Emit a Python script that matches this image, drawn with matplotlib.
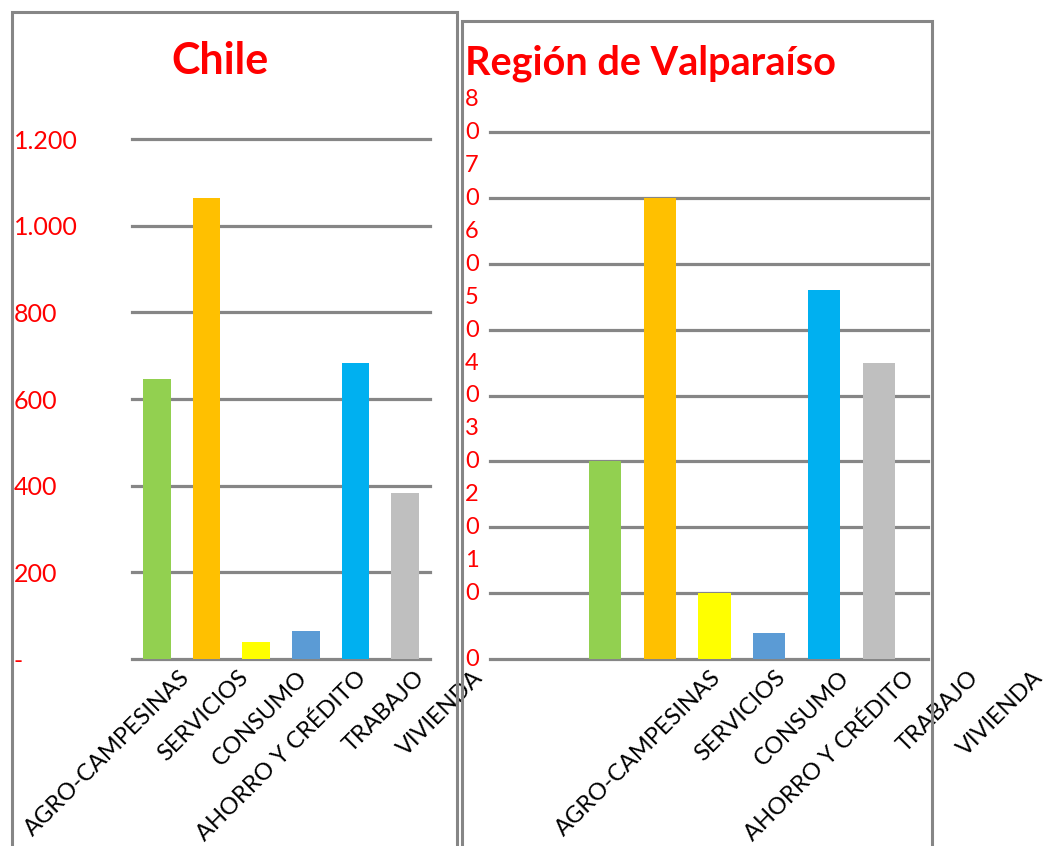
import matplotlib
matplotlib.use('Agg')
import matplotlib.pyplot as plt
import matplotlib.transforms as mtransforms
from matplotlib.patches import Rectangle
import numpy as np

plt.rcParams['font.family'] = ['Lato', 'DejaVu Sans']

# Datos
categorias = ['AGRO-CAMPESINAS', 'SERVICIOS', 'CONSUMO', 'AHORRO Y CRÉDITO', 'TRABAJO', 'VIVIENDA']
colores = ['#92D050', '#FFC000', '#FFFF00', '#5B9BD5', '#00B0F0', '#BFBFBF']

chile = [647, 1064, 39, 65, 682, 382]
valparaiso = [30, 70, 10, 4, 56, 45]

chile_ticks = [0, 200, 400, 600, 800, 1000, 1200]
chile_ticklabels = ['-', '200', '400', '600', '800', '1.000', '1.200']
valpo_ticks = [0, 10, 20, 30, 40, 50, 60, 70, 80]
valpo_ticklabels = ['0', '1\n0', '2\n0', '3\n0', '4\n0', '5\n0', '6\n0', '7\n0', '8\n0']

ROJO = '#FF0000'
GRIS = '#868686'

W, H = 1051, 846
fig = plt.figure(figsize=(W / 100, H / 100), dpi=100)


def caja(x0, y0, x1, y1):
    # pixeles (origen arriba-izquierda) -> coordenadas de figura
    return [x0 / W, 1 - y1 / H, (x1 - x0) / W, (y1 - y0) / H]


ax1 = fig.add_axes(caja(132, 139, 430, 659))
ax2 = fig.add_axes(caja(490, 132, 928, 659))

x = np.arange(len(categorias))
ax1.bar(x, chile, width=0.56, color=colores, zorder=3)
ax2.bar(x, valparaiso, width=0.59, color=colores, zorder=3)

ax1.set_xlim(-0.5, 5.5)
ax1.set_ylim(0, 1200)
ax2.set_xlim(-2.1, 5.9)
ax2.set_ylim(0, 80)

for ax in (ax1, ax2):
    for s in ax.spines.values():
        s.set_visible(False)
    ax.set_axisbelow(True)
    ax.yaxis.grid(True, color=GRIS, linewidth=2.3)
    ax.tick_params(length=0)
    ax.set_xticks([])

# Eje Y Chile
ax1.set_yticks(chile_ticks, chile_ticklabels)
ax1.tick_params(axis='y', pad=85, labelcolor=ROJO, labelsize=18)
for lbl in ax1.get_yticklabels():
    lbl.set_horizontalalignment('left')

# Eje Y Valparaíso (etiquetas partidas en dos líneas)
ax2.set_yticks(valpo_ticks, [''] * len(valpo_ticks))
trans = mtransforms.blended_transform_factory(fig.transFigure, ax2.transData)
for v, lab in zip(valpo_ticks, valpo_ticklabels):
    t = trans
    if '\n' in lab:
        t = mtransforms.offset_copy(trans, fig=fig, y=16, units='dots')
    ax2.text(465 / W, v, lab, transform=t, ha='left', va='center',
             color=ROJO, fontsize=17, linespacing=1.7)

for ax in (ax1, ax2):
    for gl in ax.get_ygridlines():
        gl.set_clip_on(False)

# Etiquetas de categorías (desplazadas como en el original)
pos_izq = 0.61 + 1.18 * x
pos_der = 2.07 + 1.174 * x
for ax, pos in ((ax1, pos_izq), (ax2, pos_der)):
    tr = mtransforms.offset_copy(ax.get_xaxis_transform(), fig=fig, x=-8, y=-8, units='dots')
    for p, cat in zip(pos, categorias):
        ax.text(p, 0, cat, transform=tr, rotation=45, rotation_mode='anchor',
                ha='right', va='top', fontsize=17, clip_on=False)

# Títulos
fig.text(171 / W, 1 - 74 / H, 'Chile', color=ROJO, fontsize=31,
         fontweight='bold', ha='left', va='baseline')
fig.text(465 / W, 1 - 75 / H, 'Región de Valparaíso', color=ROJO, fontsize=28.5,
         fontweight='bold', ha='left', va='baseline')

# Marcos de cada gráfico
fig.add_artist(Rectangle((12 / W, -0.1), (457 - 12) / W, 1 - 12 / H + 0.1,
                         transform=fig.transFigure, fill=False, ec=GRIS, lw=2.2))
fig.add_artist(Rectangle((462 / W, -0.1), (932 - 462) / W, 1 - 21 / H + 0.1,
                         transform=fig.transFigure, fill=False, ec=GRIS, lw=2.2))

fig.savefig('out.png', dpi=100)
plt.close(fig)
